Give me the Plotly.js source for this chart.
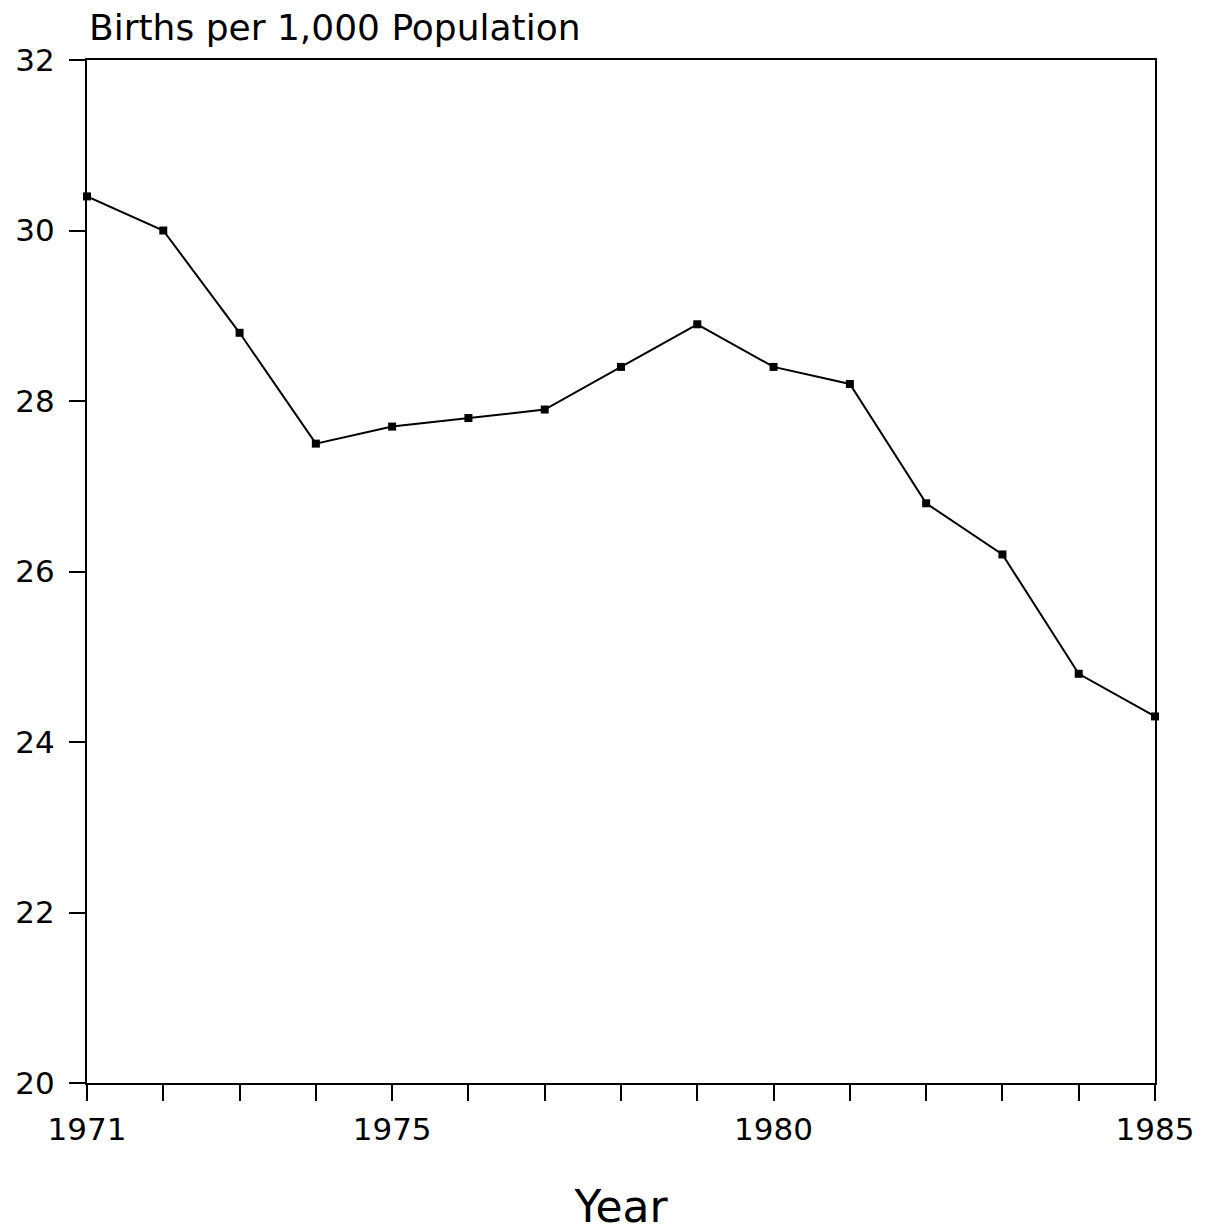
<!DOCTYPE html>
<html>
<head>
<meta charset="utf-8">
<script src="https://cdn.plot.ly/plotly-3.0.1.min.js"></script>
<style>
  body { margin: 0; background: #fff; }
  #plot { width: 1209px; height: 1232px; }
</style>
</head>
<body>
<div id="plot"></div>
<script>
// Births per 1,000 population, 1971-1985
var years = [1971, 1972, 1973, 1974, 1975, 1976, 1977, 1978, 1979, 1980, 1981, 1982, 1983, 1984, 1985];
var births = [30.4, 30.0, 28.8, 27.5, 27.7, 27.8, 27.9, 28.4, 28.9, 28.4, 28.2, 26.8, 26.2, 24.8, 24.3];

var labeledYears = [1971, 1975, 1980, 1985];
var xTickText = years.map(function (y) { return labeledYears.indexOf(y) >= 0 ? String(y) : ""; });

var yTicks = [20, 22, 24, 26, 28, 30, 32];

var trace = {
  x: years,
  y: births,
  mode: "lines+markers",
  type: "scatter",
  line: { color: "#000", width: 2 },
  marker: { color: "#000", symbol: "square", size: 8 },
  cliponaxis: false
};

var font = "DejaVu Sans, sans-serif";

var layout = {
  width: 1209,
  height: 1232,
  margin: { l: 87, r: 54, t: 60, b: 149 },
  paper_bgcolor: "#fff",
  plot_bgcolor: "#fff",
  showlegend: false,
  xaxis: {
    range: [1971, 1985],
    tickmode: "array",
    tickvals: years,
    ticktext: xTickText,
    ticks: "outside",
    ticklen: 16,
    tickwidth: 2,
    tickcolor: "#000",
    ticklabelstandoff: 2,
    showgrid: false,
    zeroline: false,
    showline: true,
    linecolor: "#000",
    linewidth: 2,
    mirror: true,
    tickfont: { family: font, size: 31, color: "#000" },
    title: { text: "Year", font: { family: font, size: 44, color: "#000" }, standoff: 50 }
  },
  yaxis: {
    range: [20, 32],
    tickmode: "array",
    tickvals: yTicks,
    ticks: "outside",
    ticklen: 16,
    tickwidth: 2,
    tickcolor: "#000",
    ticklabelstandoff: 8,
    showgrid: false,
    zeroline: false,
    showline: true,
    linecolor: "#000",
    linewidth: 2,
    mirror: true,
    tickfont: { family: font, size: 31, color: "#000" }
  },
  annotations: [{
    text: "Births per 1,000 Population",
    xref: "paper",
    yref: "paper",
    x: 0,
    y: 1,
    xanchor: "left",
    yanchor: "bottom",
    yshift: 10,
    showarrow: false,
    font: { family: font, size: 36, color: "#000" }
  }]
};

Plotly.newPlot("plot", [trace], layout, { displayModeBar: false });
</script>
</body>
</html>
